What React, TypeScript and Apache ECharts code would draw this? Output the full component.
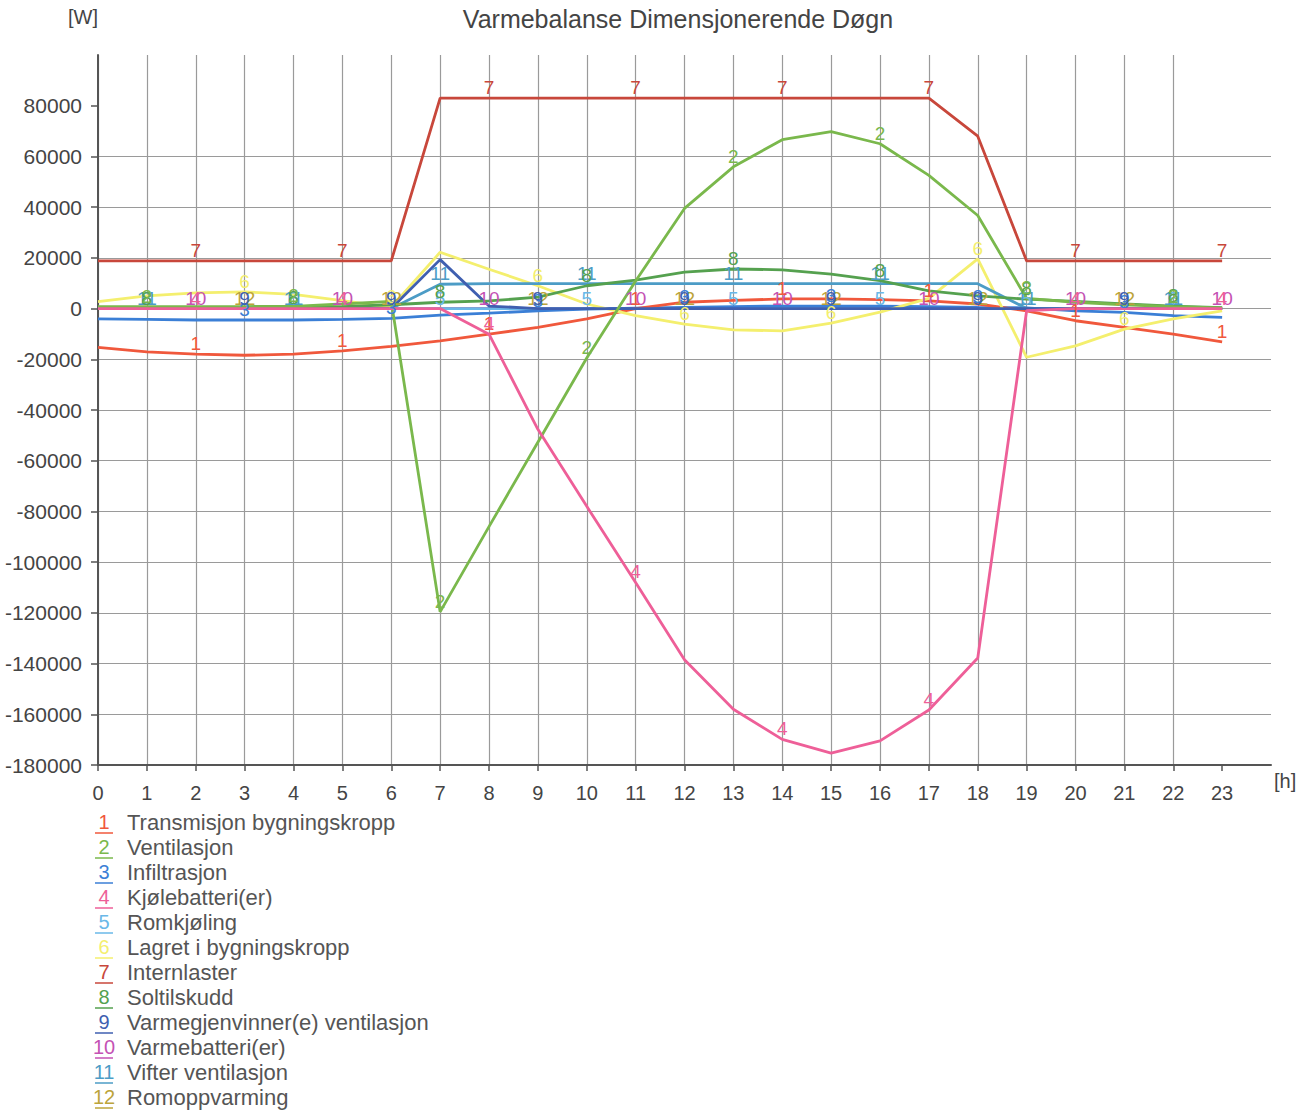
import React, { useEffect, useRef } from "react";
import * as echarts from "echarts";

const HOURS = [0, 1, 2, 3, 4, 5, 6, 7, 8, 9, 10, 11, 12, 13, 14, 15, 16, 17, 18, 19, 20, 21, 22, 23];
const Y_TICKS = [-180000, -160000, -140000, -120000, -100000, -80000, -60000, -40000, -20000, 0, 20000, 40000, 60000, 80000];

const NAMES = [
  "Transmisjon bygningskropp",
  "Ventilasjon",
  "Infiltrasjon",
  "Kjølebatteri(er)",
  "Romkjøling",
  "Lagret i bygningskropp",
  "Internlaster",
  "Soltilskudd",
  "Varmegjenvinner(e) ventilasjon",
  "Varmebatteri(er)",
  "Vifter ventilasjon",
  "Romoppvarming",
];

const S1 = [-15300, -17100, -18000, -18400, -18000, -16700, -14900, -12700, -10100, -7400, -4100, 0, 2500, 3200, 3800, 3800, 3500, 3000, 1800, -900, -4800, -7400, -10100, -13100];
const S2 = [800, 800, 800, 800, 900, 1800, 2800, -119600, -86000, -52700, -19500, 10900, 39500, 55900, 66600, 69800, 65000, 52500, 36700, 4000, 2500, 1500, 800, 300];
const S3 = [-4100, -4300, -4500, -4500, -4500, -4300, -3900, -2600, -1800, -900, -200, 200, 500, 800, 1000, 1000, 1000, 800, 500, 300, -900, -1500, -2800, -3500];
const S4 = [0, 0, 0, 0, 0, 0, 0, 0, -10100, -47600, -78000, -108000, -138500, -158000, -169900, -175300, -170500, -158300, -137800, -800, 0, 0, 0, 0];
const S5 = [0, 0, 0, 0, 0, 0, 0, 0, 0, 0, 0, 0, 0, 0, 0, 0, 0, 0, 0, 0, 0, 0, 0, 0];
const S6 = [2700, 5000, 6200, 6600, 5600, 3100, 500, 22200, 15500, 9000, 1800, -2800, -6100, -8400, -8800, -5700, -1400, 4000, 19600, -19200, -14700, -8100, -4100, -900];
const S7 = [18800, 18800, 18800, 18800, 18800, 18800, 18800, 83000, 83000, 83000, 83000, 83000, 83000, 83000, 83000, 83000, 83000, 83000, 68000, 18800, 18800, 18800, 18800, 18800];
const S8 = [0, 0, 0, 0, 300, 800, 1500, 2500, 3000, 4500, 9000, 11200, 14400, 15600, 15300, 13600, 11000, 7000, 5000, 3700, 2800, 1800, 1000, 400];
const S9 = [0, 0, 0, 0, 0, 0, 0, 19300, 1000, 0, 0, 0, 0, 0, 0, 0, 0, 0, 0, 0, 0, 0, 0, 0];
const S10 = [0, 0, 0, 0, 0, 0, 0, 0, 0, 0, 0, 0, 0, 0, 0, 0, 0, 0, 0, 0, 0, 0, 0, 0];
const S11 = [0, 0, 0, 0, 0, 0, 0, 9600, 9800, 9800, 9800, 9800, 9800, 9800, 9800, 9800, 9800, 9800, 9800, 0, 0, 0, 0, 0];
const S12 = [0, 0, 0, 0, 0, 0, 0, 0, 0, 0, 0, 0, 0, 0, 0, 0, 0, 0, 0, 0, 0, 0, 0, 0];

const SERIES = [S1, S2, S3, S4, S5, S6, S7, S8, S9, S10, S11, S12];

const COLORS = [
  "#f0583c",
  "#7ab84c",
  "#3b7fd6",
  "#ee5f98",
  "#6ab8e8",
  "#f4ef6e",
  "#c8473b",
  "#55a14f",
  "#3f5fb0",
  "#c452b4",
  "#4c9cc6",
  "#bca43a",
];

const DRAW_ORDER = [11, 9, 4, 2, 0, 5, 10, 8, 7, 1, 3, 6];

const FONT = "Liberation Sans, Arial, sans-serif";

export default function App() {
  const ref = useRef<HTMLDivElement>(null);

  useEffect(() => {
    document.body.style.margin = "0";
    const chart = echarts.init(ref.current!, null, { renderer: "svg" });

    const series = DRAW_ORDER.map((k) => {
      const num = k + 1;
      const start = (3 - (num % 3)) % 3;
      return {
        type: "line",
        name: NAMES[k],
        symbol: "circle",
        symbolSize: 0,
        showSymbol: true,
        z: 2,
        lineStyle: { color: COLORS[k], width: 2.8 },
        itemStyle: { color: COLORS[k], opacity: 1 },
        label: {
          show: false,
          position: "top",
          distance: 1,
          color: COLORS[k],
          fontSize: 19,
          fontFamily: FONT,
        },
        data: HOURS.map((h, i) => {
          const show = i > 0 && i % 3 === start;
          return {
            value: [h, SERIES[k][i]],
            label: {
              show,
              formatter: String(num),
            },
          };
        }),
      };
    });

    const legendGraphics: any[] = [];
    NAMES.forEach((name, i) => {
      const y = 822 + 25 * i;
      legendGraphics.push({
        type: "text",
        x: 104,
        y,
        style: {
          text: String(i + 1),
          fill: COLORS[i],
          font: `20px ${FONT}`,
          textAlign: "center",
          textVerticalAlign: "middle",
        },
      });
      legendGraphics.push({
        type: "line",
        shape: { x1: 95, y1: y + 11, x2: 113, y2: y + 11 },
        style: { stroke: COLORS[i], lineWidth: 1.5 },
      });
      legendGraphics.push({
        type: "text",
        x: 127,
        y,
        style: {
          text: name,
          fill: "#555",
          font: `22px ${FONT}`,
          textAlign: "left",
          textVerticalAlign: "middle",
        },
      });
    });

    chart.setOption({
      animation: false,
      backgroundColor: "#ffffff",
      title: {
        text: "Varmebalanse Dimensjonerende Døgn",
        left: 673,
        top: 1,
        textAlign: "center",
        textStyle: { color: "#444", fontWeight: "normal", fontSize: 25, fontFamily: FONT },
      },
      grid: { left: 98, right: 43, top: 55, bottom: 348, containLabel: false },
      xAxis: {
        type: "value",
        min: 0,
        max: 24,
        interval: 1,
        name: "[h]",
        nameLocation: "end",
        nameGap: 3,
        nameTextStyle: { color: "#444", fontSize: 20, fontFamily: FONT, verticalAlign: "top", padding: [6, 0, 0, 0] },
        axisLine: { show: true, onZero: false, lineStyle: { color: "#555", width: 2 } },
        axisTick: { show: true, length: 6, lineStyle: { color: "#555", width: 1.5 }, customValues: HOURS },
        axisLabel: {
          color: "#444",
          fontSize: 20,
          fontFamily: FONT,
          margin: 18,
          customValues: HOURS,
          formatter: (v: number) => String(v),
        },
        splitLine: { show: true, showMaxLine: false, lineStyle: { color: "#9a9a9a", width: 1.2 } },
      },
      yAxis: {
        type: "value",
        min: -180000,
        max: 100000,
        interval: 20000,
        name: "[W]",
        nameLocation: "end",
        nameGap: 28,
        nameTextStyle: { color: "#444", fontSize: 20, fontFamily: FONT, align: "right" },
        axisLine: { show: true, onZero: false, lineStyle: { color: "#555", width: 2 } },
        axisTick: { show: true, length: 7, lineStyle: { color: "#555", width: 1.5 }, customValues: Y_TICKS },
        axisLabel: {
          color: "#444",
          fontSize: 21,
          fontFamily: FONT,
          margin: 16,
          customValues: Y_TICKS,
          formatter: (v: number) => String(v),
        },
        splitLine: { show: true, showMaxLine: false, lineStyle: { color: "#9a9a9a", width: 1.2 } },
      },
      graphic: legendGraphics,
      series,
    });

    return () => chart.dispose();
  }, []);

  return <div ref={ref} style={{ width: 1314, height: 1113 }} />;
}
